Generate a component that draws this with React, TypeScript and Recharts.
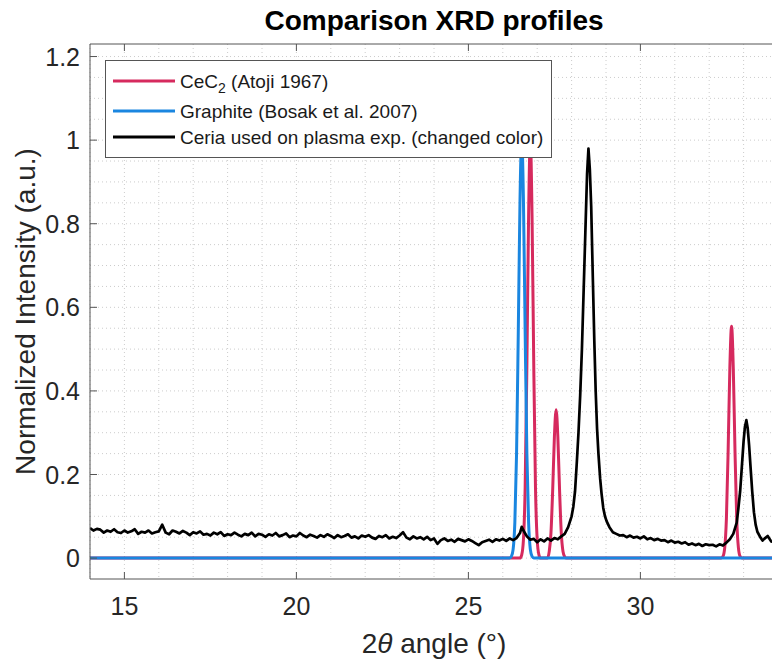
import { LineChart, Line, XAxis, YAxis, CartesianGrid, Label, ReferenceLine } from "recharts";

// [2theta, normalized intensity]
const CEC2: [number, number][] = [
  [14, 0], [26.5, 0], [26.55, 0.008], [26.6, 0.044], [26.65, 0.17], [26.7, 0.46], [26.75, 0.82],
  [26.8, 1.0], [26.85, 0.82], [26.9, 0.46], [26.95, 0.17], [27.0, 0.044], [27.05, 0.008], [27.1, 0],
  [27.3, 0], [27.35, 0.016], [27.4, 0.06], [27.45, 0.163], [27.5, 0.29], [27.55, 0.355], [27.6, 0.29],
  [27.65, 0.163], [27.7, 0.06], [27.75, 0.016], [27.8, 0.003], [27.85, 0],
  [32.35, 0], [32.4, 0.004], [32.45, 0.024], [32.5, 0.094], [32.55, 0.255], [32.6, 0.455], [32.65, 0.555],
  [32.7, 0.455], [32.75, 0.255], [32.8, 0.094], [32.85, 0.024], [32.9, 0.004], [32.95, 0], [34, 0],
];

const GRAPHITE: [number, number][] = [
  [14, 0], [26.2, 0], [26.25, 0.004], [26.3, 0.021], [26.35, 0.085], [26.4, 0.25], [26.45, 0.54],
  [26.5, 0.857], [26.55, 1.0], [26.6, 0.857], [26.65, 0.54], [26.7, 0.25], [26.75, 0.085],
  [26.8, 0.021], [26.85, 0.004], [26.9, 0], [34, 0],
];

const CERIA: [number, number][] = [
  [14.0, 0.072], [14.1, 0.066], [14.2, 0.07], [14.3, 0.068], [14.4, 0.061], [14.5, 0.066], [14.6, 0.063],
  [14.7, 0.069], [14.8, 0.062], [14.9, 0.06], [15.0, 0.066], [15.1, 0.061], [15.2, 0.064], [15.3, 0.069],
  [15.4, 0.058], [15.5, 0.063], [15.6, 0.061], [15.7, 0.066], [15.8, 0.059], [15.9, 0.062], [16.0, 0.064],
  [16.1, 0.08], [16.2, 0.061], [16.3, 0.057], [16.4, 0.066], [16.5, 0.063], [16.6, 0.059], [16.7, 0.065],
  [16.8, 0.061], [16.9, 0.055], [17.0, 0.062], [17.1, 0.059], [17.2, 0.064], [17.3, 0.056], [17.4, 0.058],
  [17.5, 0.054], [17.6, 0.061], [17.7, 0.057], [17.8, 0.062], [17.9, 0.053], [18.0, 0.057], [18.1, 0.055],
  [18.2, 0.061], [18.3, 0.056], [18.4, 0.052], [18.5, 0.058], [18.6, 0.055], [18.7, 0.061], [18.8, 0.052],
  [18.9, 0.058], [19.0, 0.056], [19.1, 0.051], [19.2, 0.057], [19.3, 0.054], [19.4, 0.06], [19.5, 0.052],
  [19.6, 0.055], [19.7, 0.059], [19.8, 0.05], [19.9, 0.054], [20.0, 0.052], [20.1, 0.06], [20.2, 0.054],
  [20.3, 0.05], [20.4, 0.056], [20.5, 0.053], [20.6, 0.049], [20.7, 0.055], [20.8, 0.051], [20.9, 0.057],
  [21.0, 0.053], [21.1, 0.048], [21.2, 0.055], [21.3, 0.05], [21.4, 0.053], [21.5, 0.057], [21.6, 0.049],
  [21.7, 0.052], [21.8, 0.047], [21.9, 0.054], [22.0, 0.051], [22.1, 0.055], [22.2, 0.049], [22.3, 0.046],
  [22.4, 0.053], [22.5, 0.05], [22.6, 0.055], [22.7, 0.047], [22.8, 0.051], [22.9, 0.048], [23.0, 0.054],
  [23.1, 0.062], [23.2, 0.049], [23.3, 0.045], [23.4, 0.052], [23.5, 0.047], [23.6, 0.05], [23.7, 0.045],
  [23.8, 0.051], [23.9, 0.043], [24.0, 0.047], [24.1, 0.034], [24.2, 0.043], [24.3, 0.047], [24.4, 0.041],
  [24.5, 0.044], [24.6, 0.039], [24.7, 0.046], [24.8, 0.043], [24.9, 0.04], [25.0, 0.045], [25.1, 0.041],
  [25.2, 0.036], [25.3, 0.031], [25.4, 0.038], [25.5, 0.041], [25.6, 0.044], [25.7, 0.039], [25.8, 0.045],
  [25.9, 0.042], [26.0, 0.046], [26.1, 0.041], [26.2, 0.047], [26.3, 0.043], [26.4, 0.048], [26.5, 0.06],
  [26.55, 0.075], [26.6, 0.066], [26.7, 0.052], [26.8, 0.044], [26.9, 0.046], [27.0, 0.038], [27.1, 0.045],
  [27.2, 0.04], [27.3, 0.047], [27.4, 0.042], [27.5, 0.048], [27.6, 0.045], [27.7, 0.052], [27.8, 0.058],
  [27.9, 0.074], [28.0, 0.1], [28.05, 0.123], [28.1, 0.16], [28.15, 0.227], [28.2, 0.3], [28.25, 0.39],
  [28.3, 0.5], [28.35, 0.64], [28.4, 0.78], [28.45, 0.92], [28.49, 0.98], [28.53, 0.93], [28.57, 0.84],
  [28.62, 0.66], [28.66, 0.52], [28.7, 0.4], [28.74, 0.31], [28.78, 0.25], [28.83, 0.19], [28.87, 0.155],
  [28.92, 0.12], [28.97, 0.1], [29.02, 0.088], [29.1, 0.074], [29.2, 0.062], [29.3, 0.058], [29.4, 0.054],
  [29.5, 0.055], [29.6, 0.05], [29.7, 0.054], [29.8, 0.049], [29.9, 0.051], [30.0, 0.047], [30.1, 0.052],
  [30.2, 0.045], [30.3, 0.048], [30.4, 0.043], [30.5, 0.046], [30.6, 0.042], [30.7, 0.043], [30.8, 0.038],
  [30.9, 0.042], [31.0, 0.037], [31.1, 0.039], [31.2, 0.035], [31.3, 0.038], [31.4, 0.032], [31.5, 0.035],
  [31.6, 0.031], [31.7, 0.034], [31.8, 0.029], [31.9, 0.033], [32.0, 0.031], [32.1, 0.032], [32.2, 0.028],
  [32.3, 0.033], [32.4, 0.03], [32.5, 0.037], [32.6, 0.045], [32.7, 0.058], [32.8, 0.085], [32.85, 0.12],
  [32.9, 0.16], [32.95, 0.22], [33.0, 0.28], [33.04, 0.315], [33.08, 0.33], [33.12, 0.31], [33.16, 0.27],
  [33.2, 0.22], [33.25, 0.16], [33.3, 0.11], [33.35, 0.08], [33.4, 0.063], [33.5, 0.048], [33.55, 0.042],
  [33.6, 0.046], [33.7, 0.053], [33.8, 0.04], [33.9, 0.038], [34.0, 0.041],
];

const SERIES_NAMES = ["CeC2 (Atoji 1967)", "Graphite (Bosak et al. 2007)", "Ceria used on plasma exp. (changed color)"];
const SERIES_COLORS = ["#d62a5e", "#1a86e0", "#000000"];

const X_TICKS = [15, 20, 25, 30];
const Y_TICKS = [0, 0.2, 0.4, 0.6, 0.8, 1, 1.2];
const X_GRID = [14, 15, 16, 17, 18, 19, 20, 21, 22, 23, 24, 25, 26, 27, 28, 29, 30, 31, 32, 33];
const Y_GRID = [0, 0.05, 0.1, 0.15, 0.2, 0.25, 0.3, 0.35, 0.4, 0.45, 0.5, 0.55, 0.6, 0.65, 0.7, 0.75,
  0.8, 0.85, 0.9, 0.95, 1, 1.05, 1.1, 1.15, 1.2];
const Y_MAX = 1.23;

const FONT = "'Liberation Sans', Arial, Helvetica, sans-serif";
const TEXT = "#262626";
const AXIS = "#555555";
const PLOT_TOP = 44;
const PLOT_BOTTOM = 579;
const PLOT_LEFT = 90;
const TICK_LEN = 7;

const rows = (pts: [number, number][]) => pts.map(([x, y]) => ({ x, y }));

function BottomTick(props: any) {
  const { x, payload } = props;
  return (
    <g>
      <line x1={x} x2={x} y1={PLOT_BOTTOM} y2={PLOT_BOTTOM - TICK_LEN} stroke={AXIS} />
      <line x1={x} x2={x} y1={PLOT_TOP} y2={PLOT_TOP + TICK_LEN} stroke={AXIS} />
      <text x={x} y={615} textAnchor="middle" fontSize={25} fill={TEXT} fontFamily={FONT}>{payload.value}</text>
    </g>
  );
}

function LeftTick(props: any) {
  const { y, payload } = props;
  return (
    <g>
      <line x1={PLOT_LEFT} x2={PLOT_LEFT + TICK_LEN} y1={y} y2={y} stroke={AXIS} />
      <text x={80} y={y + 9} textAnchor="end" fontSize={25} fill={TEXT} fontFamily={FONT}>{String(payload.value)}</text>
    </g>
  );
}

function TitleLabel(props: any) {
  const vb = props.viewBox;
  return (
    <text x={vb.x + vb.width / 2} y={30} textAnchor="middle" fontSize={28} fontWeight="bold" fill="#000" fontFamily={FONT}>
      Comparison XRD profiles
    </text>
  );
}

function XLabel(props: any) {
  const vb = props.viewBox;
  return (
    <text x={vb.x + vb.width / 2} y={653} textAnchor="middle" fontSize={28} fill={TEXT} fontFamily={FONT}>
      <tspan>2</tspan>
      <tspan fontStyle="italic">θ</tspan>
      <tspan> angle (°)</tspan>
    </text>
  );
}

function YLabel(props: any) {
  const vb = props.viewBox;
  const cy = vb.y + vb.height / 2;
  return (
    <text x={35} y={cy} transform={`rotate(-90, 35, ${cy})`} textAnchor="middle" fontSize={28} fill={TEXT} fontFamily={FONT}>
      Normalized Intensity (a.u.)
    </text>
  );
}

function LegendBox() {
  const ys = [21, 51, 77];
  return (
    <svg width={448} height={99} style={{ position: "absolute", left: 105, top: 60 }}>
      <rect x={0.5} y={0.5} width={446} height={97} fill="#fff" stroke={AXIS} />
      {SERIES_NAMES.map((name, i) => (
        <g key={name}>
          <line x1={8} x2={70} y1={ys[i]} y2={ys[i]} stroke={SERIES_COLORS[i]} strokeWidth={3} />
          <text x={75} y={ys[i] + 7} fontSize={19} fill="#1a1a1a" fontFamily={FONT}>
            {i === 0 ? (
              <>
                <tspan>CeC</tspan>
                <tspan dy={5} fontSize={14}>2</tspan>
                <tspan dy={-5}> (Atoji 1967)</tspan>
              </>
            ) : (
              name
            )}
          </text>
        </g>
      ))}
    </svg>
  );
}

export default function App() {
  return (
    <div style={{ position: "absolute", left: 0, top: 0, width: 772, height: 659, overflow: "hidden", background: "#fff" }}>
      <LineChart width={780} height={659} margin={{ top: PLOT_TOP, right: 2, bottom: 0, left: 0 }}>
        <CartesianGrid
          stroke="#cccccc"
          strokeDasharray="1 3"
          verticalValues={X_GRID}
          horizontalValues={Y_GRID}
        />
        <XAxis
          dataKey="x"
          type="number"
          domain={[14, 34]}
          allowDataOverflow
          ticks={X_TICKS}
          interval={0}
          height={80}
          axisLine={{ stroke: AXIS }}
          tickLine={false}
          tick={BottomTick}
          label={<Label content={XLabel} />}
        />
        <YAxis
          type="number"
          domain={[-0.05, Y_MAX]}
          allowDataOverflow
          ticks={Y_TICKS}
          interval={0}
          width={90}
          axisLine={{ stroke: AXIS }}
          tickLine={false}
          tick={LeftTick}
          label={<Label content={YLabel} />}
        />
        <ReferenceLine y={Y_MAX} stroke={AXIS} label={<Label content={TitleLabel} />} />
        <Line data={rows(CEC2)} dataKey="y" name={SERIES_NAMES[0]} type="monotone" stroke={SERIES_COLORS[0]}
          strokeWidth={3} dot={false} isAnimationActive={false} />
        <Line data={rows(GRAPHITE)} dataKey="y" name={SERIES_NAMES[1]} type="monotone" stroke={SERIES_COLORS[1]}
          strokeWidth={3} dot={false} isAnimationActive={false} />
        <Line data={rows(CERIA)} dataKey="y" name={SERIES_NAMES[2]} type="linear" stroke={SERIES_COLORS[2]}
          strokeWidth={2.7} strokeLinejoin="round" dot={false} isAnimationActive={false} />
      </LineChart>
      <LegendBox />
    </div>
  );
}
